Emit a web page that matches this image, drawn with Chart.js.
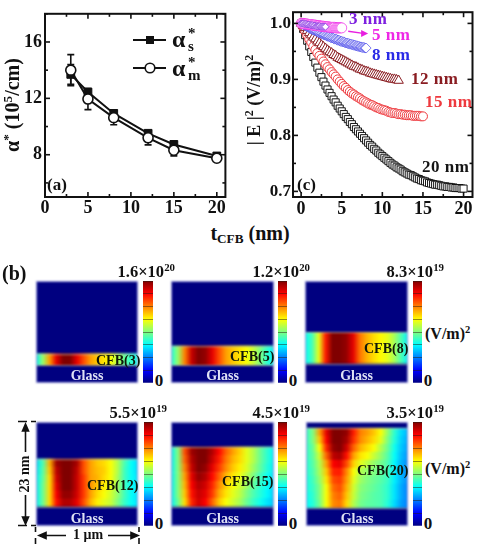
<!DOCTYPE html>
<html>
<head>
<meta charset="utf-8">
<title>CFB absorption and field profiles</title>
<script src="https://cdn.jsdelivr.net/npm/chart.js@4"></script>
<style>
  html, body { margin: 0; padding: 0; background: #fff; }
  #page { position: relative; width: 479px; height: 545px; overflow: hidden; font-family: "Liberation Serif", serif; font-weight: bold; color: #111; }
  #page canvas { position: absolute; display: block; }
  .note { position: absolute; line-height: 1; white-space: nowrap; }
  .note sup { font-size: .66em; line-height: 0; vertical-align: .55em; }
  .note sub { font-size: .66em; line-height: 0; vertical-align: -.25em; }
  .panel { outline: 1px solid #8f93d8; outline-offset: -1px; filter: blur(.9px); }
  svg { position: absolute; left: 0; top: 0; }
</style>
</head>
<body>
<div id="page"></div>
<script>
  // (a) absorption against CFB thickness
  const thickness = [3, 5, 8, 12, 15, 20];
  const alphaS = [13.7, 12.45, 10.93, 9.52, 8.73, 7.91];
  const alphaM = [14.0, 11.95, 10.63, 9.2, 8.32, 7.75];
  const alphaMError = [1.1, 0.75, 0.5, 0.5, 0.4, 0.2];
  const alphaSError = [0.7, 0.2, 0.25, 0.2, 0.2, 0.15];

  // (c) |E|^2 through the film, the thin films are sampled twice as often
  const fineStep = 0.125;
  const coarseStep = 0.25;
  const profile3nm = [1.000, 1.000, 1.000, .999, .999, .999, .998, .998, .998, .997, .997, .997, .996, .996, .996, .995, .995, .995, .995, .994, .994, .994, .994, .994, .994];
  const profile5nm = [1.000, 1.000, 1.000, .999, .999, .999, .999, .998, .998, .998, .998, .997, .997, .997, .997, .996, .996, .996, .996, .995, .995, .995, .995,
    .994, .994, .994, .994, .994, .993, .993, .993, .993, .993, .993, .992, .992, .992, .992, .992, .992, .992];
  const profile8nm = [1.000, .999, .998, .997, .996, .995, .994, .993, .992, .991, .990, .989, .988, .988, .987, .986,
    .985, .984, .983, .983, .982, .981, .980, .980, .979, .978, .977, .977, .976, .975, .974, .974,
    .973, .972, .972, .971, .970, .970, .969, .968, .968, .967, .967, .966, .965, .965, .964, .964,
    .963, .963, .962, .962, .961, .961, .960, .960, .959, .959, .958, .958, .957, .957, .957, .956, .956];
  const profile12nm = [1.000, .996, .992, .987, .983, .979, .975, .972, .968, .965, .961, .958, .955, .952, .949, .947, .944,
    .942, .939, .937, .935, .933, .931, .929, .927, .925, .923, .922, .920, .918, .917, .915, .914,
    .913, .911, .910, .909, .908, .907, .906, .905, .904, .903, .902, .901, .900, .900, .899, .898];
  const profile15nm = [1.000, .993, .986, .979, .972, .966, .959, .953, .947, .942, .937, .932, .927, .922, .918, .913, .909,
    .905, .900, .896, .892, .888, .885, .881, .878, .875, .873, .870, .868, .866, .863, .861, .859,
    .857, .855, .854, .852, .850, .849, .847, .846, .845, .844, .842, .841, .840, .840, .839, .838,
    .838, .837, .837, .836, .836, .836, .835, .835, .835, .835, .834, .834];
  const profile20nm = [1.000, .990, .979, .969, .959, .949, .940, .930, .921, .912, .904, .896, .889, .882, .876, .870, .864,
    .859, .853, .848, .843, .838, .833, .829, .824, .820, .815, .811, .807, .803, .799, .795, .791,
    .787, .783, .780, .776, .773, .769, .766, .763, .760, .757, .754, .751, .748, .746, .743, .741,
    .739, .736, .734, .732, .730, .729, .727, .725, .723, .722, .720, .719, .718, .716, .715, .714,
    .713, .712, .712, .711, .710, .709, .709, .708, .708, .707, .707, .706, .706, .706, .705, .705];

  // (b) stack geometry in nm: the window is 26 nm tall, film sits on the glass
  const filmNames = ['CFB(3)', 'CFB(5)', 'CFB(8)', 'CFB(12)', 'CFB(15)', 'CFB(20)'];
  const filmThickness = [3, 5, 8, 12, 15, 20];
  const glassThickness = [4.5, 4.5, 4.9, 4.8, 4.8, 4.5];
  const peakField = [1.6e20, 1.2e20, 8.3e19, 5.5e19, 4.5e19, 3.5e19];

  // normalised field in the film, rows from top to bottom, 16 samples across 1 um
  const field3 = [[.36, .52, .72, .9, 1, 1, .9, .8, .72, .68, .65, .62, .55, .47, .42, .38]];
  const field5 = [[.4, .52, .75, .93, 1, .98, .9, .8, .72, .68, .65, .62, .57, .5, .42, .37]];
  const field8 = [[.38, .44, .6, .85, 1, 1, .98, .9, .76, .7, .66, .63, .6, .54, .45, .36]];
  const field12 = [
    [.34, .45, .7, .97, 1, 1, .96, .8, .72, .68, .66, .62, .55, .45, .38, .34],
    [.35, .46, .68, .94, 1, 1, .94, .8, .72, .69, .67, .62, .55, .44, .38, .34],
    [.36, .47, .66, .92, 1, 1, .93, .82, .72, .7, .66, .62, .54, .44, .38, .35],
    [.36, .48, .66, .9, 1, 1, .93, .82, .73, .68, .64, .6, .53, .44, .38, .35],
    [.36, .48, .66, .88, .98, .98, .92, .82, .72, .66, .62, .58, .52, .44, .38, .35],
    [.36, .48, .66, .86, .95, .95, .9, .8, .7, .64, .6, .57, .5, .43, .38, .35]
  ];
  const field15 = [
    [.36, .5, .8, .97, 1, 1, .95, .87, .78, .72, .67, .6, .55, .48, .42, .37],
    [.36, .5, .78, .95, 1, 1, .93, .85, .76, .7, .66, .6, .55, .48, .42, .37],
    [.36, .5, .75, .93, 1, .98, .9, .82, .74, .68, .64, .59, .53, .47, .41, .36],
    [.36, .5, .72, .9, .98, .95, .87, .78, .7, .65, .61, .56, .5, .44, .39, .35],
    [.36, .5, .7, .88, .95, .92, .84, .74, .67, .62, .58, .53, .47, .42, .38, .34],
    [.36, .5, .68, .86, .93, .9, .82, .71, .65, .6, .56, .5, .45, .41, .37, .33],
    [.36, .48, .66, .84, .92, .88, .78, .68, .62, .58, .54, .48, .43, .39, .35, .32]
  ];
  const field20 = [
    [.42, .5, .72, .9, 1, 1, .98, .85, .75, .72, .68, .62, .52, .42, .34, .3],
    [.42, .5, .68, .88, 1, 1, .96, .83, .74, .7, .66, .6, .5, .41, .33, .29],
    [.42, .48, .62, .84, .98, 1, .92, .78, .7, .66, .62, .55, .48, .39, .32, .28],
    [.42, .47, .58, .78, .94, .96, .86, .72, .65, .62, .57, .52, .46, .38, .31, .27],
    [.41, .46, .55, .72, .88, .9, .8, .67, .6, .56, .52, .49, .45, .37, .3, .26],
    [.41, .45, .54, .68, .84, .85, .74, .62, .55, .52, .5, .47, .44, .36, .3, .26],
    [.4, .44, .52, .65, .8, .82, .72, .6, .53, .5, .48, .46, .43, .36, .3, .26],
    [.4, .43, .5, .62, .77, .8, .7, .58, .51, .49, .47, .45, .42, .35, .29, .25],
    [.39, .42, .5, .62, .75, .78, .68, .57, .5, .48, .46, .45, .42, .35, .29, .25],
    [.38, .41, .49, .62, .74, .76, .66, .55, .49, .47, .46, .45, .41, .34, .28, .25]
  ];
  const filmFields = [field3, field5, field8, field12, field15, field20];

  // window and colour bar boxes: left, top, width, height
  const panelBoxes = [[36, 281, 102, 102], [171, 281, 103, 102], [305, 281, 103, 102], [36, 422, 102, 104], [171, 422, 103, 104], [306, 422, 102, 104]];
  const barBoxes = [[143, 281, 10, 102], [278, 281, 9, 102], [413, 281, 9, 102], [144, 422, 9, 104], [278, 422, 9, 104], [413, 422, 9, 104]];

  const page = document.getElementById('page');
  Chart.defaults.animation = false;
  Chart.defaults.responsive = false;
  Chart.defaults.font.family = '"Liberation Serif", serif';
  Chart.defaults.font.weight = 'bold';
  Chart.defaults.font.size = 18;
  Chart.defaults.color = '#111';
  Chart.defaults.plugins.legend.display = false;
  Chart.defaults.plugins.tooltip.enabled = false;

  function addCanvas(left, top, width, height, className) {
    const canvas = document.createElement('canvas');
    canvas.width = width;
    canvas.height = height;
    canvas.style.left = left + 'px';
    canvas.style.top = top + 'px';
    canvas.style.width = width + 'px';
    canvas.style.height = height + 'px';
    if (className) canvas.className = className;
    page.appendChild(canvas);
    return canvas;
  }

  function addNote(x, y, html, size, color, anchor, rotate) {
    const el = document.createElement('div');
    el.className = 'note';
    el.innerHTML = html;
    el.style.left = x + 'px';
    el.style.top = y + 'px';
    el.style.fontSize = size + 'px';
    if (color) el.style.color = color;
    const shift = anchor === 'left' ? '0' : anchor === 'right' ? '-100%' : '-50%';
    el.style.transform = `translate(${shift}, -50%)` + (rotate ? ` rotate(${rotate}deg)` : '');
    page.appendChild(el);
    return el;
  }

  // colormap for the field maps
  function jet(t) {
    const f = (c) => Math.round(255 * Math.max(0, Math.min(1, 1.5 - Math.abs(4 * t - c))));
    return `rgb(${f(3)},${f(2)},${f(1)})`;
  }

  // thick frame with ticks pointing into the plot on all four sides
  const tickFrame = {
    id: 'tickFrame',
    afterDatasetsDraw(chart, args, opts) {
      const { ctx, chartArea: a, scales } = chart;
      ctx.save();
      ctx.strokeStyle = '#111';
      ctx.lineWidth = 1.6;
      const mark = (x0, y0, x1, y1) => { ctx.beginPath(); ctx.moveTo(x0, y0); ctx.lineTo(x1, y1); ctx.stroke(); };
      const xMarks = (list, len) => list.forEach((v) => {
        const px = scales.x.getPixelForValue(v);
        mark(px, a.bottom, px, a.bottom - len);
        mark(px, a.top, px, a.top + len);
      });
      const yMarks = (list, len) => list.forEach((v) => {
        const py = scales.y.getPixelForValue(v);
        mark(a.left, py, a.left + len, py);
        mark(a.right, py, a.right - len, py);
      });
      xMarks(opts.xMajor, 5); xMarks(opts.xMinor, 3);
      yMarks(opts.yMajor, 5); yMarks(opts.yMinor, 3);
      ctx.lineWidth = 2;
      ctx.strokeRect(a.left, a.top, a.right - a.left, a.bottom - a.top);
      ctx.restore();
    }
  };

  // error bars for (a), under the markers
  const errorBars = {
    id: 'errorBars',
    beforeDatasetsDraw(chart) {
      const { ctx, scales } = chart;
      ctx.save();
      ctx.strokeStyle = '#111';
      ctx.lineWidth = 1.6;
      const bar = (x, y, err) => {
        const px = scales.x.getPixelForValue(x);
        const hi = scales.y.getPixelForValue(y + err);
        const lo = scales.y.getPixelForValue(y - err);
        ctx.beginPath();
        ctx.moveTo(px, hi); ctx.lineTo(px, lo);
        ctx.moveTo(px - 3.5, hi); ctx.lineTo(px + 3.5, hi);
        ctx.moveTo(px - 3.5, lo); ctx.lineTo(px + 3.5, lo);
        ctx.stroke();
      };
      thickness.forEach((x, i) => { bar(x, alphaM[i], alphaMError[i]); bar(x, alphaS[i], alphaSError[i]); });
      ctx.restore();
    }
  };

  // legend keys for (a)
  const legendKeys = {
    id: 'legendKeys',
    afterDraw(chart) {
      const { ctx } = chart;
      ctx.save();
      ctx.strokeStyle = '#111';
      ctx.lineWidth = 2;
      [40, 68].forEach((y) => { ctx.beginPath(); ctx.moveTo(133, y); ctx.lineTo(166, y); ctx.stroke(); });
      ctx.fillStyle = '#111';
      ctx.fillRect(146, 36, 8, 8);
      ctx.fillStyle = '#fff';
      ctx.lineWidth = 1.6;
      ctx.beginPath(); ctx.arc(150, 68, 4.8, 0, Math.PI * 2); ctx.fill(); ctx.stroke();
      ctx.restore();
    }
  };

  // small arrow tying the 5 nm label to its curve in (c)
  const curveArrow = {
    id: 'curveArrow',
    afterDraw(chart) {
      const { ctx, scales } = chart;
      const x0 = scales.x.getPixelForValue(5.8), y0 = scales.y.getPixelForValue(.986);
      const x1 = scales.x.getPixelForValue(8.0), y1 = scales.y.getPixelForValue(.982);
      ctx.save();
      ctx.strokeStyle = '#e81fe0';
      ctx.fillStyle = '#e81fe0';
      ctx.lineWidth = 1.3;
      ctx.beginPath(); ctx.moveTo(x0, y0); ctx.lineTo(x1 - 3, y1); ctx.stroke();
      ctx.beginPath(); ctx.moveTo(x1 + 2, y1); ctx.lineTo(x1 - 5, y1 - 3.5); ctx.lineTo(x1 - 5, y1 + 3.5); ctx.fill();
      ctx.restore();
    }
  };

  // thin light edge along the film interfaces
  const filmEdges = {
    id: 'filmEdges',
    afterDatasetsDraw(chart, args, opts) {
      const { ctx, chartArea: a, scales } = chart;
      ctx.save();
      ctx.strokeStyle = 'rgba(200,200,170,.75)';
      ctx.lineWidth = 1;
      opts.levels.forEach((v) => {
        const py = Math.round(scales.y.getPixelForValue(v)) + .5;
        ctx.beginPath(); ctx.moveTo(a.left, py); ctx.lineTo(a.right, py); ctx.stroke();
      });
      ctx.restore();
    }
  };

  function fixedWidth(width) { return (scale) => { scale.width = width; }; }
  function fixedHeight(height) { return (scale) => { scale.height = height; }; }
  function useTicks(list) { return (scale) => { scale.ticks = list.map((value) => ({ value })); }; }

  // ---- chart (a) ----
  const alphaTicksX = [0, 5, 10, 15, 20];
  const alphaTicksY = [8, 12, 16];
  new Chart(addCanvas(0, 0, 232, 222), {
    type: 'line',
    data: {
      labels: thickness,
      datasets: [
        { data: thickness.map((x, i) => ({ x, y: alphaM[i] })), borderColor: '#111', borderWidth: 2, backgroundColor: '#fff', pointStyle: 'circle', pointRadius: 5, pointBorderWidth: 1.6 },
        { data: thickness.map((x, i) => ({ x, y: alphaS[i] })), borderColor: '#111', borderWidth: 2, backgroundColor: '#111', pointStyle: 'rect', pointRadius: 5.5, pointBorderWidth: 1 }
      ]
    },
    options: {
      layout: { padding: { top: 7, right: 4, left: 0, bottom: 0 } },
      scales: {
        x: { type: 'linear', min: 0, max: 21, grid: { display: false, drawTicks: false }, border: { display: false }, afterBuildTicks: useTicks(alphaTicksX), afterFit: fixedHeight(25), ticks: { maxRotation: 0, padding: 1 } },
        y: { min: 5, max: 18, grid: { display: false, drawTicks: false }, border: { display: false }, afterBuildTicks: useTicks(alphaTicksY), afterFit: fixedWidth(45), ticks: { padding: 3 } }
      },
      plugins: {
        tickFrame: { xMajor: alphaTicksX, xMinor: [2.5, 7.5, 12.5, 17.5], yMajor: alphaTicksY, yMinor: [6, 10, 14, 18] }
      }
    },
    plugins: [errorBars, tickFrame, legendKeys]
  });

  // ---- chart (c) ----
  const fieldTicksX = [0, 5, 10, 15, 20];
  const fieldTicksY = [.7, .8, .9, 1.0];
  const profileSeries = [
    [profile3nm, fineStep, '#7d20e0', 'rectRot', 3.5, .7],
    [profile5nm, fineStep, '#ee28e6', 'circle', 5, .7],
    [profile8nm, fineStep, '#2a2ae6', 'rectRot', 5, .6],
    [profile12nm, coarseStep, '#8a1d22', 'triangle', 5.5, 1],
    [profile15nm, coarseStep, '#ee3a3f', 'circle', 4.5, 1],
    [profile20nm, coarseStep, '#151515', 'rect', 5, 1]
  ];
  new Chart(addCanvas(250, 0, 229, 222), {
    type: 'scatter',
    data: {
      datasets: profileSeries.map(([values, step, color, style, radius, stroke]) => ({
        data: values.map((y, i) => ({ x: i * step, y })),
        borderColor: color,
        backgroundColor: '#fff',
        pointStyle: style,
        pointRadius: radius,
        pointBorderWidth: stroke,
        showLine: false
      }))
    },
    options: {
      layout: { padding: { top: 9, right: 2, left: 0, bottom: 0 } },
      scales: {
        x: { type: 'linear', min: -1, max: 21.1, grid: { display: false, drawTicks: false }, border: { display: false }, afterBuildTicks: useTicks(fieldTicksX), afterFit: fixedHeight(25), ticks: { maxRotation: 0, padding: 2 } },
        y: { min: .69, max: 1.02, grid: { display: false, drawTicks: false }, border: { display: false }, afterBuildTicks: useTicks(fieldTicksY), afterFit: fixedWidth(43), ticks: { padding: 2, font: { size: 17 }, callback: (v) => v.toFixed(1) } }
      },
      plugins: {
        tickFrame: { xMajor: fieldTicksX, xMinor: [2.5, 7.5, 12.5, 17.5], yMajor: fieldTicksY, yMinor: [.75, .85, .95] }
      }
    },
    plugins: [tickFrame, curveArrow]
  });

  // ---- field maps (b) ----
  filmThickness.forEach((film, n) => {
    const [left, top, width, height] = panelBoxes[n];
    const rows = filmFields[n];
    const navy = jet(0);
    const horizontal = (values) => (ctx) => {
      const area = ctx.chart.chartArea;
      if (!area) return navy;
      const g = ctx.chart.ctx.createLinearGradient(area.left, 0, area.right, 0);
      values.forEach((t, i) => g.addColorStop(i / (values.length - 1), jet(t)));
      return g;
    };
    const bottomUp = rows.slice().reverse();
    const datasets = [{ data: [glassThickness[n]], backgroundColor: navy }];
    bottomUp.forEach((values) => datasets.push({ data: [film / rows.length], backgroundColor: horizontal(values) }));
    datasets.push({ data: [26 - glassThickness[n] - film], backgroundColor: navy });
    new Chart(addCanvas(left, top, width, height, 'panel'), {
      type: 'bar',
      data: { labels: [filmNames[n]], datasets: datasets.map((d) => ({ ...d, barPercentage: 1, categoryPercentage: 1 })) },
      options: {
        layout: { padding: 0 },
        scales: {
          x: { stacked: true, display: false },
          y: { stacked: true, display: false, min: 0, max: 26 }
        },
        plugins: { filmEdges: { levels: [glassThickness[n], glassThickness[n] + film] } }
      },
      plugins: [filmEdges]
    });

    // colour bar from 0 to the panel's peak
    const peak = peakField[n];
    const [barLeft, barTop, barWidth, barHeight] = barBoxes[n];
    new Chart(addCanvas(barLeft, barTop, barWidth, barHeight), {
      type: 'bar',
      data: {
        labels: ['|E|2'],
        datasets: [{
          data: [peak],
          barPercentage: 1,
          categoryPercentage: 1,
          backgroundColor: (ctx) => {
            const area = ctx.chart.chartArea;
            if (!area) return navy;
            const g = ctx.chart.ctx.createLinearGradient(0, area.bottom, 0, area.top);
            for (let k = 0; k <= 32; k++) g.addColorStop(k / 32, jet(k / 32));
            return g;
          }
        }]
      },
      options: {
        layout: { padding: 0 },
        scales: {
          x: { display: false },
          y: {
            min: 0, max: peak,
            afterFit: fixedWidth(0),
            border: { display: false },
            grid: { color: 'rgba(40,30,20,.5)', drawTicks: false, z: 1 },
            ticks: { display: false, count: 9 }
          }
        }
      }
    });
  });

  // ---- labels ----
  addNote(12, 105, 'α<sup>*</sup> (10<sup>5</sup>/cm)', 20, null, 'center', -90);
  addNote(254, 100, '| E |<sup>2</sup> (V/m)<sup>2</sup>', 18, null, 'center', -90);
  addNote(250, 233, 't<sub>CFB</sub> (nm)', 20);
  addNote(47, 184, '(a)', 17, null, 'left');
  addNote(297, 184, '(c)', 17, null, 'left');
  addNote(2, 273, '(b)', 20, null, 'left');

  // legend text
  addNote(172, 39, 'α', 24, null, 'left');
  addNote(188, 46, 's', 15, null, 'left');
  addNote(188, 33, '*', 15, null, 'left');
  addNote(172, 68, 'α', 24, null, 'left');
  addNote(188, 75, 'm', 15, null, 'left');
  addNote(188, 62, '*', 15, null, 'left');

  // curve names in (c)
  const curveNames = [
    ['3 nm', 349, 18, '#7d20e0'], ['5 nm', 372, 34, '#ee28e6'], ['8 nm', 372, 54, '#2a2ae6'],
    ['12 nm', 411, 78, '#8a1d22'], ['15 nm', 425, 101, '#ee3a3f'], ['20 nm', 422, 166, '#151515']
  ];
  curveNames.forEach(([text, x, y, color]) => {
    addNote(x, y, text, 17, color, 'left').style.letterSpacing = '.5px';
  });

  // peak values above each colour bar
  const peakLabels = [
    ['1.6×10<sup>20</sup>', 175, 272], ['1.2×10<sup>20</sup>', 310, 272], ['8.3×10<sup>19</sup>', 444, 272],
    ['5.5×10<sup>19</sup>', 167, 413], ['4.5×10<sup>19</sup>', 310, 413], ['3.5×10<sup>19</sup>', 444, 413]
  ];
  peakLabels.forEach(([text, x, y]) => addNote(x, y, text, 16.5, null, 'right'));

  const zeroLabels = [[159, 380], [293, 380], [428, 380], [159, 523], [293, 523], [428, 523]];
  zeroLabels.forEach(([x, y]) => addNote(x, y, '0', 17));
  addNote(425, 334, '(V/m)<sup>2</sup>', 16, null, 'left');
  addNote(425, 469, '(V/m)<sup>2</sup>', 16, null, 'left');

  // film and glass names inside the maps
  const filmLabelPos = [[96, 361], [230, 357], [364, 349], [87, 486], [222, 482], [357, 471]];
  filmLabelPos.forEach(([x, y], n) => addNote(x, y, filmNames[n], 14, '#10180a', 'left'));
  panelBoxes.forEach(([left, top, width, height]) => {
    addNote(left + width / 2, top + height - 7.5, 'Glass', 14, '#dfe2f5');
  });

  // scale bars next to the CFB(12) map
  addNote(25, 474, '23 nm', 14, null, 'center', -90);
  addNote(88, 535, '1 μm', 14);
  page.insertAdjacentHTML('beforeend', `
    <svg width="479" height="545" fill="none" stroke="#111" stroke-width="1.6">
      <path d="M18 421.5h9M31 421.5h5M18 525.5h9M31 525.5h5"/>
      <path d="M25.5 426V452M25.5 495V522"/>
      <path d="M22.5 431L25.5 424L28.5 431Z M22.5 517L25.5 524L28.5 517Z" fill="#111"/>
      <path d="M35.5 527V532M35.5 538V544M139 527V532M139 538V544"/>
      <path d="M41 535.5H66M108 535.5H135"/>
      <path d="M46 532.5L39 535.5L46 538.5Z M131 532.5L138 535.5L131 538.5Z" fill="#111"/>
    </svg>`);
</script>
</body>
</html>
